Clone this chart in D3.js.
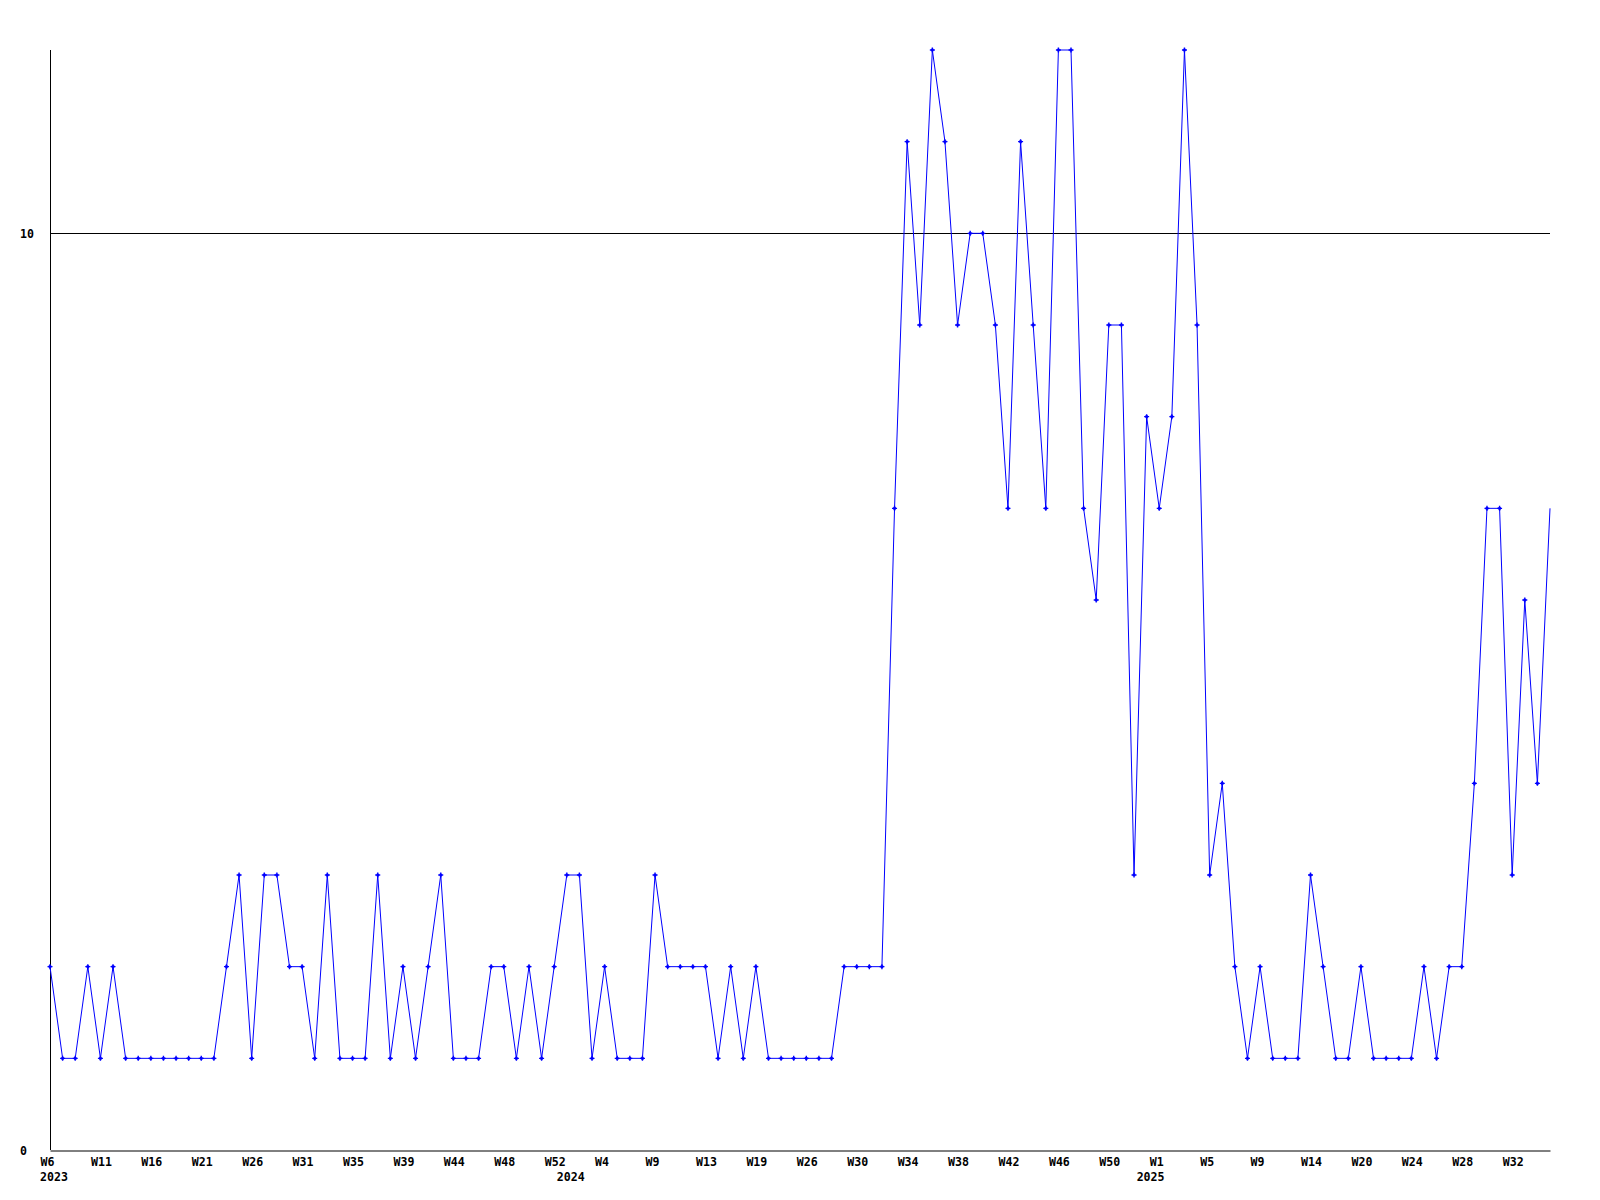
<!DOCTYPE html>
<html>
<head>
<meta charset="utf-8">
<script src="https://cdn.jsdelivr.net/npm/d3@7"></script>
<style>
  html, body { margin: 0; padding: 0; background: #fff; }
  svg { display: block; }
  text { font-family: "DejaVu Sans Mono", "Liberation Mono", monospace; font-weight: bold; font-size: 11.6px; fill: #000; }
</style>
</head>
<body>
<script>
// ---- data ----
const values = [
  2,1,1,2,1,2,1,1,1,1,1,1,1,1,2,3,1,3,3,2,
  2,1,3,1,1,1,3,1,2,1,2,3,1,1,1,2,2,1,2,1,
  2,3,3,1,2,1,1,1,3,2,2,2,2,1,2,1,2,1,1,1,
  1,1,1,2,2,2,2,7,11,9,12,11,9,10,10,9,7,11,9,7,
  12,12,7,6,9,9,3,8,7,8,12,9,3,4,2,1,2,1,1,1,
  3,2,1,1,2,1,1,1,1,2,1,2,2,4,7,7,3,6,4,7
];
const weekTickLabels = ["W6","W11","W16","W21","W26","W31","W35","W39","W44","W48","W52",
  "W4","W9","W13","W19","W26","W30","W34","W38","W42","W46","W50",
  "W1","W5","W9","W14","W20","W24","W28","W32"];
const weekTickIndex = weekTickLabels.map((d, i) => i * 4);
const yearLabels = ["2023", "2024", "2025"];
const yearIndex = [0, 41, 87];
const yTicks = [0, 10];

// ---- layout ----
const W = 1600, H = 1200;
const svg = d3.select("body").append("svg").attr("width", W).attr("height", H);
svg.append("rect").attr("width", W).attr("height", H).attr("fill", "#fff");

const x = d3.scaleLinear().domain([0, values.length - 1]).range([50, 1550]);
const y = d3.scaleLinear().domain([0, 12]).range([1150, 50]);

// grid line at 10
svg.append("g").selectAll("line").data(yTicks.filter(d => d > 0)).join("line")
  .attr("x1", x(0)).attr("x2", x(values.length - 1))
  .attr("y1", d => Math.round(y(d)) + 0.5).attr("y2", d => Math.round(y(d)) + 0.5)
  .attr("stroke", "#000").attr("stroke-width", 1);

// y axis
const yAxis = svg.append("g").attr("transform", "translate(50.5,0)")
  .call(d3.axisLeft(y).tickValues(yTicks).tickFormat(d3.format("d")).tickSize(0).tickSizeOuter(0));
yAxis.select(".domain").attr("stroke", "#000").attr("d", `M0,${y(12)}V${y(0)}`);
yAxis.selectAll("text").attr("x", -30.5).attr("text-anchor", "start").attr("dy", "0.35em");
yAxis.attr("font-family", null).attr("font-size", null);

// x axis
const xAxis = svg.append("g").attr("transform", "translate(0,1150.5)")
  .call(d3.axisBottom(x).tickValues(weekTickIndex)
    .tickFormat((d, i) => weekTickLabels[i]).tickSize(0).tickSizeOuter(0));
xAxis.select(".domain").attr("stroke", "#000");
xAxis.selectAll("text").attr("text-anchor", "start").attr("dx", -10).attr("y", 7).attr("dy", "0.71em");
xAxis.attr("font-family", null).attr("font-size", null);

// year labels
svg.append("g").selectAll("text").data(yearLabels).join("text")
  .attr("x", (d, i) => x(yearIndex[i]) - 10)
  .attr("y", 1181)
  .text(d => d);

// line
svg.append("path").datum(values)
  .attr("fill", "none").attr("stroke", "#0000ff").attr("stroke-width", 1)
  .attr("d", d3.line().x((d, i) => x(i)).y(d => y(d)));

// markers (last point has none in the reference)
svg.append("g").selectAll("path").data(values.slice(0, values.length - 1)).join("path")
  .attr("transform", (d, i) => `translate(${x(i)},${y(d)})`)
  .attr("d", "M-2.5,-0.7H2.5V0.7H-2.5Z M-0.7,-2.5H0.7V2.5H-0.7Z M-1.3,-1.3H1.3V1.3H-1.3Z")
  .attr("fill", "#0000ff");
</script>
</body>
</html>
